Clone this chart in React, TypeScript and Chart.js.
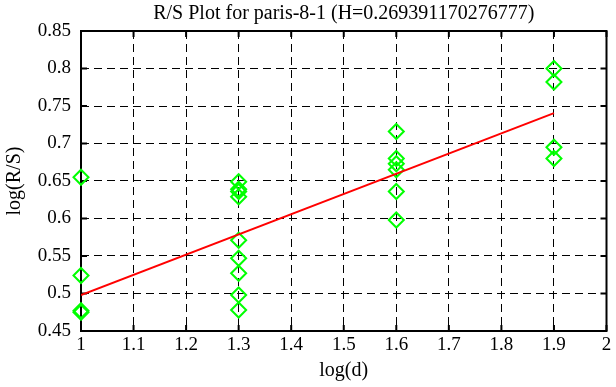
import React, { useEffect, useRef } from "react";
import { Chart, registerables } from "chart.js";

Chart.register(...registerables);

// log(d) positions
const logD = [1, 1.3, 1.6, 1.9];
// log(R/S) observations at each log(d)
const rsAtD1 = [0.655, 0.524, 0.477, 0.475];
const rsAtD13 = [0.649, 0.639, 0.636, 0.629, 0.571, 0.547, 0.527, 0.498, 0.478];
const rsAtD16 = [0.716, 0.68, 0.673, 0.665, 0.636, 0.598];
const rsAtD19 = [0.8, 0.782, 0.695, 0.68];
const rsGroups = [rsAtD1, rsAtD13, rsAtD16, rsAtD19];

// fitted line endpoints
const fitX = [1, 1.9];
const fitY = [0.498, 0.7405];

const titleText = "R/S Plot for paris-8-1 (H=0.269391170276777)";
const xTitle = "log(d)";
const yTitle = "log(R/S)";

const FONT = "'Liberation Serif', 'Times New Roman', serif";

const fmt = (v: number) => String(Math.round(v * 100) / 100);

const framePlugin = {
  id: "frame",
  beforeDatasetsDraw(chart: any) {
    const { ctx, chartArea, scales } = chart;
    const { left, right, top, bottom } = chartArea;
    ctx.save();
    ctx.strokeStyle = "#000";
    ctx.lineWidth = 2;
    ctx.setLineDash([]);
    ctx.strokeRect(left, top, right - left, bottom - top);
    const tl = 6;
    ctx.beginPath();
    scales.x.ticks.forEach((t: any) => {
      const px = scales.x.getPixelForValue(t.value);
      ctx.moveTo(px, bottom);
      ctx.lineTo(px, bottom - tl);
      ctx.moveTo(px, top);
      ctx.lineTo(px, top + tl);
    });
    scales.y.ticks.forEach((t: any) => {
      const py = scales.y.getPixelForValue(t.value);
      ctx.moveTo(left, py);
      ctx.lineTo(left + tl, py);
      ctx.moveTo(right, py);
      ctx.lineTo(right - tl, py);
    });
    ctx.stroke();
    ctx.restore();
  },
};

export default function App() {
  const ref = useRef<HTMLCanvasElement | null>(null);
  useEffect(() => {
    if (!ref.current) return;
    const points: { x: number; y: number }[] = [];
    logD.forEach((d, i) => rsGroups[i].forEach((v) => points.push({ x: d, y: v })));
    const chart = new Chart(ref.current, {
      type: "scatter",
      data: {
        datasets: [
          {
            type: "line",
            data: fitX.map((x, i) => ({ x, y: fitY[i] })),
            borderColor: "#ff0000",
            borderWidth: 2,
            pointRadius: 0,
            fill: false,
          } as any,
          {
            data: points,
            pointStyle: "rectRot",
            pointRadius: 7.5,
            pointBorderWidth: 2,
            pointBorderColor: "#00ff00",
            pointBackgroundColor: "rgba(0,0,0,0)",
            showLine: false,
            clip: false,
          },
        ],
      },
      plugins: [framePlugin],
      options: {
        animation: false,
        responsive: false,
        events: [],
        layout: { padding: { left: 0, right: 6, top: 0, bottom: 0 } },
        plugins: {
          legend: { display: false },
          tooltip: { enabled: false },
          title: {
            display: true,
            text: titleText,
            fullSize: false,
            color: "#000",
            font: { family: FONT, size: 20, weight: "normal" },
            padding: { top: 2, bottom: 5 },
          },
        },
        scales: {
          x: {
            type: "linear",
            min: 1,
            max: 2,
            afterFit: (s: any) => {
              s.height = 56;
            },
            ticks: {
              stepSize: 0.1,
              color: "#000",
              font: { family: FONT, size: 19 },
              padding: 3,
              maxRotation: 0,
              callback: (v: any) => fmt(Number(v)),
            },
            grid: { color: "#000", lineWidth: 1, drawTicks: false },
            border: { display: false, dash: [8, 5] },
            title: {
              display: true,
              text: xTitle,
              color: "#000",
              font: { family: FONT, size: 20 },
              padding: { top: 0, bottom: 4 },
            },
          },
          y: {
            type: "linear",
            min: 0.45,
            max: 0.85,
            afterFit: (s: any) => {
              s.width = 81;
            },
            ticks: {
              stepSize: 0.05,
              color: "#000",
              font: { family: FONT, size: 19 },
              padding: 10,
              callback: (v: any) => fmt(Number(v)),
            },
            grid: { color: "#000", lineWidth: 1, drawTicks: false },
            border: { display: false, dash: [8, 5] },
            title: {
              display: true,
              text: yTitle,
              color: "#000",
              font: { family: FONT, size: 20 },
              padding: { top: 3, bottom: 0 },
            },
          },
        },
      } as any,
    });
    return () => chart.destroy();
  }, []);
  return (
    <div style={{ position: "absolute", left: 0, top: 0, width: 616, height: 387, background: "#fff" }}>
      <canvas ref={ref} width={616} height={387} style={{ display: "block" }} />
    </div>
  );
}
